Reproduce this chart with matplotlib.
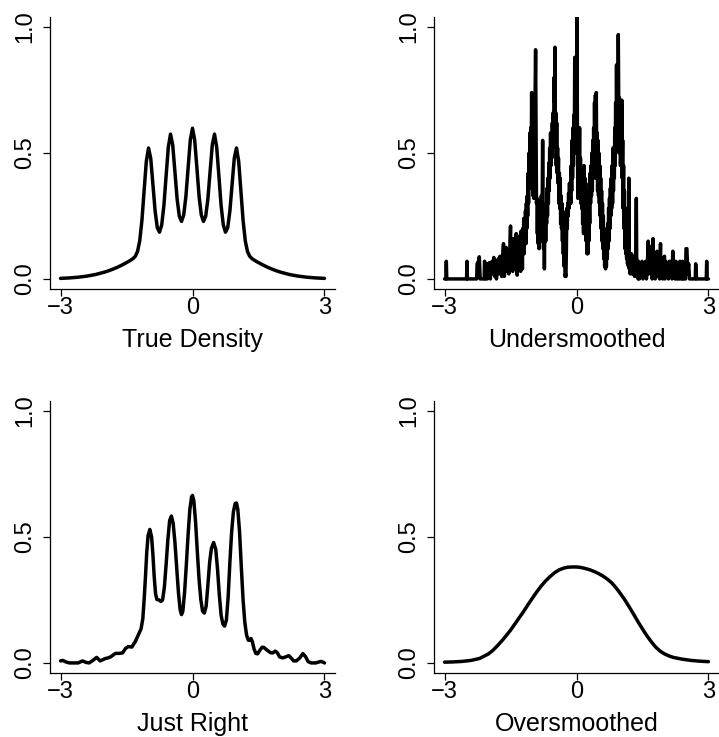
import matplotlib
matplotlib.use("Agg")
import matplotlib.pyplot as plt

plt.rcParams['font.family'] = ['Liberation Sans', 'DejaVu Sans']

# ---------------- data ----------------
true_x = [-3.0, -2.8, -2.6, -2.4, -2.2, -2.0, -1.9, -1.8, -1.7, -1.6, -1.5, -1.45, -1.4, -1.35, -1.3, -1.25,
          -1.2, -1.15, -1.1, -1.05, -1.0, -0.95, -0.9, -0.85, -0.8, -0.75, -0.7, -0.65, -0.6, -0.55, -0.5,
          -0.45, -0.4, -0.35, -0.3, -0.25, -0.2, -0.15, -0.1, -0.05, 0.0, 0.05, 0.1, 0.15, 0.2, 0.25, 0.3,
          0.35, 0.4, 0.45, 0.5, 0.55, 0.6, 0.65, 0.7, 0.75, 0.8, 0.85, 0.9, 0.95, 1.0, 1.05, 1.1, 1.15, 1.2,
          1.25, 1.3, 1.35, 1.4, 1.45, 1.5, 1.6, 1.7, 1.8, 1.9, 2.0, 2.2, 2.4, 2.6, 2.8, 3.0]
true_y = [0.0022, 0.0040, 0.0068, 0.0112, 0.0177, 0.0270, 0.0328, 0.0395, 0.0470, 0.0555, 0.0648, 0.0697,
          0.0750, 0.0811, 0.0901, 0.1089, 0.1511, 0.2325, 0.3509, 0.4670, 0.5199, 0.4791, 0.3752, 0.2694,
          0.2033, 0.1856, 0.2145, 0.2919, 0.4087, 0.5235, 0.5750, 0.5323, 0.4262, 0.3180, 0.2491, 0.2284,
          0.2539, 0.3276, 0.4406, 0.5513, 0.5984, 0.5513, 0.4406, 0.3276, 0.2539, 0.2284, 0.2491, 0.3180,
          0.4262, 0.5323, 0.5750, 0.5235, 0.4087, 0.2919, 0.2145, 0.1856, 0.2033, 0.2694, 0.3752, 0.4791,
          0.5199, 0.4670, 0.3509, 0.2325, 0.1511, 0.1089, 0.0901, 0.0811, 0.0750, 0.0697, 0.0648, 0.0555,
          0.0470, 0.0395, 0.0328, 0.0270, 0.0177, 0.0112, 0.0068, 0.0040, 0.0022]

# Undersmoothed: left tail, dense core (0.01 grid from -1.30), right tail
under_left_x = [-3.0, -2.97, -2.96, -2.95, -2.50, -2.49, -2.48, -2.27, -2.26, -2.23, -2.21, -2.19,
                -2.10, -2.09, -2.07, -2.03, -2.02, -2.0, -1.98, -1.96, -1.94, -1.92, -1.9, -1.88, -1.86,
                -1.84, -1.82, -1.80, -1.78, -1.76, -1.74, -1.72, -1.70, -1.68, -1.66, -1.64,
                -1.62, -1.60, -1.58, -1.56, -1.54, -1.52, -1.50, -1.49,
                -1.47, -1.45, -1.43, -1.41, -1.39, -1.37, -1.35, -1.33]
under_left_y = [0.0, 0.0, 0.07, 0.0, 0.0, 0.07, 0.0, 0.0, 0.06, 0.07, 0.088, 0.0,
                0.0, 0.07, 0.0, 0.0, 0.06, 0.05, 0.065, 0.0, 0.06, 0.07, 0.02, 0.085, 0.01,
                0.07, 0.0, 0.06, 0.08, 0.02, 0.09, 0.06, 0.01, 0.09, 0.14, 0.01,
                0.07, 0.125, 0.03, 0.08, 0.02, 0.10, 0.21, 0.05,
                0.10, 0.03, 0.16, 0.04, 0.12, 0.18, 0.015, 0.10]
under_core_start = -1.30
under_core_step = 0.01
under_core_y = [
    0.17, 0.05, 0.12, 0.03, 0.19, 0.08, 0.15, 0.04, 0.20, 0.12,   # -1.30
    0.24, 0.10, 0.22, 0.15, 0.27, 0.14, 0.30, 0.20, 0.33, 0.25,   # -1.20
    0.42, 0.30, 0.50, 0.36, 0.58, 0.40, 0.60, 0.45, 0.74, 0.50,   # -1.10
    0.60, 0.33, 0.45, 0.32, 0.62, 0.50, 0.75, 0.91, 0.60, 0.30,   # -1.00
    0.32, 0.18, 0.30, 0.14, 0.28, 0.12, 0.31, 0.20, 0.30, 0.15,   # -0.90
    0.33, 0.22, 0.30, 0.55, 0.30, 0.12, 0.25, 0.04, 0.22, 0.28,   # -0.80
    0.15, 0.30, 0.22, 0.36, 0.25, 0.40, 0.30, 0.46, 0.35, 0.52,   # -0.70
    0.40, 0.58, 0.45, 0.55, 0.48, 0.62, 0.52, 0.66, 0.55, 0.80,   # -0.60
    0.70, 0.92, 0.58, 0.66, 0.45, 0.62, 0.42, 0.52, 0.38, 0.48,   # -0.50
    0.30, 0.42, 0.28, 0.40, 0.22, 0.33, 0.20, 0.30, 0.15, 0.27,   # -0.40
    0.10, 0.22, 0.05, 0.15, 0.01, 0.02, 0.01, 0.12, 0.28, 0.20,   # -0.30
    0.30, 0.25, 0.34, 0.28, 0.38, 0.30, 0.36, 0.30, 0.45, 0.35,   # -0.20
    0.55, 0.40, 0.60, 0.45, 0.65, 0.50, 0.88, 0.55, 0.62, 0.50,   # -0.10
    0.72, 1.04, 0.62, 0.32, 0.45, 0.58, 0.40, 0.60, 0.34, 0.48,   # 0.00
    0.30, 0.42, 0.28, 0.42, 0.22, 0.40, 0.18, 0.45, 0.25, 0.40,   # 0.10
    0.20, 0.38, 0.15, 0.30, 0.10, 0.25, 0.10, 0.30, 0.15, 0.35,   # 0.20
    0.22, 0.42, 0.30, 0.45, 0.33, 0.50, 0.35, 0.55, 0.40, 0.60,   # 0.30
    0.42, 0.70, 0.50, 0.73, 0.40, 0.74, 0.45, 0.58, 0.35, 0.55,   # 0.40
    0.33, 0.50, 0.30, 0.45, 0.25, 0.40, 0.20, 0.35, 0.15, 0.30,   # 0.50
    0.12, 0.25, 0.08, 0.20, 0.05, 0.15, 0.04, 0.10, 0.05, 0.18,   # 0.60
    0.08, 0.22, 0.12, 0.28, 0.15, 0.32, 0.20, 0.36, 0.25, 0.40,   # 0.70
    0.28, 0.45, 0.30, 0.52, 0.35, 0.52, 0.40, 0.60, 0.45, 0.70,   # 0.80
    0.50, 0.85, 0.60, 0.80, 0.62, 0.97, 0.70, 0.72, 0.50, 0.65,   # 0.90
    0.45, 0.70, 0.45, 0.71, 0.40, 0.55, 0.28, 0.45, 0.20, 0.35,   # 1.00
    0.12, 0.25, 0.10, 0.28, 0.08, 0.20, 0.06, 0.15, 0.05, 0.40,   # 1.10
    0.04, 0.10, 0.02, 0.08, 0.03, 0.10, 0.02, 0.07, 0.05, 0.09,   # 1.20
    0.02, 0.06, 0.01, 0.08, 0.02, 0.12, 0.32, 0.05, 0.01, 0.06,   # 1.30
    0.0]                                                          # 1.40
under_right_x = [1.41, 1.43, 1.45, 1.47, 1.49, 1.51, 1.53, 1.55, 1.57, 1.59, 1.61, 1.63, 1.64,
                 1.66, 1.68, 1.70, 1.72, 1.74, 1.75, 1.77, 1.79, 1.81,
                 1.83, 1.85, 1.87, 1.89, 1.91, 1.92, 1.94, 1.96, 1.98,
                 2.00, 2.01, 2.03, 2.05, 2.07, 2.09, 2.11, 2.13, 2.15,
                 2.17, 2.19, 2.20, 2.22, 2.24, 2.26, 2.28, 2.33, 2.35, 2.37,
                 2.40, 2.41, 2.43, 2.48, 2.49, 2.51, 2.53, 2.55, 2.57,
                 2.70, 2.71, 2.73, 2.95, 2.96, 2.97, 3.0]
under_right_y = [0.07, 0.0, 0.06, 0.02, 0.07, 0.0, 0.06, 0.01, 0.07, 0.0, 0.05, 0.15, 0.02,
                 0.13, 0.03, 0.10, 0.0, 0.16, 0.02, 0.08, 0.0, 0.07,
                 0.11, 0.01, 0.07, 0.0, 0.14, 0.02, 0.06, 0.0, 0.07,
                 0.09, 0.0, 0.07, 0.01, 0.06, 0.0, 0.07, 0.02, 0.07,
                 0.0, 0.11, 0.01, 0.06, 0.0, 0.07, 0.0, 0.0, 0.07, 0.0,
                 0.0, 0.07, 0.0, 0.0, 0.12, 0.12, 0.02, 0.06, 0.0,
                 0.0, 0.06, 0.0, 0.0, 0.07, 0.0, 0.0]

under_core_x = [round(under_core_start + under_core_step * i, 2) for i in range(len(under_core_y))]
under_x = under_left_x + under_core_x + under_right_x
under_y = under_left_y + under_core_y + under_right_y

right_x = [-3.0, -2.95, -2.88, -2.8, -2.6, -2.5, -2.42, -2.35, -2.25, -2.18, -2.1, -2.05, -1.99, -1.92,
           -1.86, -1.8, -1.75, -1.65, -1.59, -1.52, -1.46, -1.38, -1.3, -1.23, -1.17, -1.13, -1.1, -1.07,
           -1.04, -1.01, -0.97, -0.93, -0.9, -0.87, -0.84, -0.81, -0.76, -0.72, -0.68, -0.64, -0.6, -0.56,
           -0.52, -0.48, -0.44, -0.4, -0.36, -0.32, -0.28, -0.25, -0.22, -0.18, -0.14, -0.1, -0.06, -0.02,
           0.0, 0.03, 0.07, 0.11, 0.15, 0.19, 0.23, 0.27, 0.31, 0.35, 0.39, 0.43, 0.48, 0.53, 0.57, 0.61,
           0.65, 0.69, 0.73, 0.77, 0.81, 0.85, 0.89, 0.93, 0.97, 1.0, 1.03, 1.07, 1.11, 1.15, 1.19, 1.23,
           1.27, 1.3, 1.33, 1.36, 1.4, 1.44, 1.48, 1.53, 1.58, 1.62, 1.7, 1.78, 1.83, 1.88, 1.93, 1.98,
           2.05, 2.12, 2.19, 2.25, 2.3, 2.36, 2.44, 2.51, 2.57, 2.63, 2.7, 2.8, 2.86, 2.92, 2.97, 3.0]
right_y = [0.008, 0.010, 0.004, 0.0, 0.0, 0.008, 0.002, 0.0, 0.012, 0.022, 0.008, 0.012, 0.017, 0.020,
           0.024, 0.032, 0.038, 0.038, 0.040, 0.058, 0.065, 0.063, 0.085, 0.112, 0.135, 0.175, 0.250, 0.340,
           0.440, 0.505, 0.530, 0.500, 0.430, 0.340, 0.275, 0.252, 0.250, 0.244, 0.250, 0.300, 0.390, 0.490,
           0.565, 0.583, 0.555, 0.480, 0.380, 0.280, 0.210, 0.192, 0.205, 0.280, 0.390, 0.510, 0.610, 0.660,
           0.665, 0.645, 0.560, 0.440, 0.330, 0.250, 0.205, 0.198, 0.225, 0.310, 0.400, 0.455, 0.478, 0.450,
           0.370, 0.270, 0.190, 0.155, 0.146, 0.170, 0.260, 0.400, 0.520, 0.600, 0.633, 0.635, 0.610, 0.520,
           0.380, 0.250, 0.160, 0.110, 0.090, 0.090, 0.097, 0.085, 0.055, 0.038, 0.036, 0.050, 0.062, 0.062,
           0.050, 0.040, 0.040, 0.047, 0.040, 0.024, 0.020, 0.024, 0.029, 0.018, 0.008, 0.008, 0.020, 0.037,
           0.025, 0.005, 0.0, 0.0, 0.003, 0.006, 0.003, 0.0]

over_x = [-3.0, -2.8, -2.6, -2.4, -2.2, -2.0, -1.9, -1.8, -1.7, -1.6, -1.5, -1.4, -1.3, -1.2, -1.1, -1.0,
          -0.9, -0.8, -0.7, -0.6, -0.5, -0.4, -0.3, -0.2, -0.1, 0.0, 0.1, 0.2, 0.3, 0.4, 0.5, 0.6, 0.7,
          0.8, 0.9, 1.0, 1.1, 1.2, 1.3, 1.4, 1.5, 1.6, 1.7, 1.8, 1.9, 2.0, 2.1, 2.2, 2.4, 2.6, 2.8, 3.0]
over_y = [0.003, 0.004, 0.006, 0.010, 0.018, 0.036, 0.050, 0.068, 0.087, 0.108, 0.130, 0.155, 0.180,
          0.205, 0.232, 0.258, 0.283, 0.306, 0.326, 0.343, 0.358, 0.369, 0.376, 0.380, 0.381, 0.381, 0.379,
          0.375, 0.370, 0.363, 0.355, 0.345, 0.333, 0.318, 0.298, 0.275, 0.250, 0.222, 0.193, 0.163, 0.135,
          0.108, 0.084, 0.063, 0.047, 0.036, 0.028, 0.022, 0.015, 0.010, 0.007, 0.005]

panels = [("True Density", true_x, true_y),
          ("Undersmoothed", under_x, under_y),
          ("Just Right", right_x, right_y),
          ("Oversmoothed", over_x, over_y)]

x_ticks = [-3, 0, 3]
x_ticklabels = ["\u22123", "0", "3"]
y_ticks = [0.0, 0.5, 1.0]
y_ticklabels = ["0.0", "0.5", "1.0"]

# ---------------- layout ----------------
W, H = 719, 737
fig = plt.figure(figsize=(W / 100, H / 100), dpi=100)

# axes boxes in pixels: (left, top, right, bottom)
boxes = [(50, 17, 335, 289), (434, 17, 719, 289),
         (50, 401, 335, 673), (434, 401, 719, 673)]

for (title, xs, ys), (l, t, r, b) in zip(panels, boxes):
    ax = fig.add_axes([l / W, (H - b) / H, (r - l) / W, (b - t) / H])
    ax.plot(xs, ys, color="black", lw=2.5, solid_joinstyle="round", solid_capstyle="round")
    ax.set_xlim(-3.24, 3.24)
    ax.set_ylim(-0.04, 1.04)
    for s in ("top", "right"):
        ax.spines[s].set_visible(False)
    for s in ("left", "bottom"):
        ax.spines[s].set_linewidth(0.9)
    ax.set_xticks(x_ticks)
    ax.set_xticklabels(x_ticklabels)
    ax.set_yticks(y_ticks)
    ax.set_yticklabels(y_ticklabels, rotation=90, va="center", ha="right")
    ax.tick_params(axis="both", direction="out", length=5, width=0.9, labelsize=17)
    ax.tick_params(axis="x", pad=1.0)
    ax.tick_params(axis="y", pad=5)
    ax.set_xlabel(title, fontsize=18, labelpad=6)

fig.savefig("out.png", dpi=100)
